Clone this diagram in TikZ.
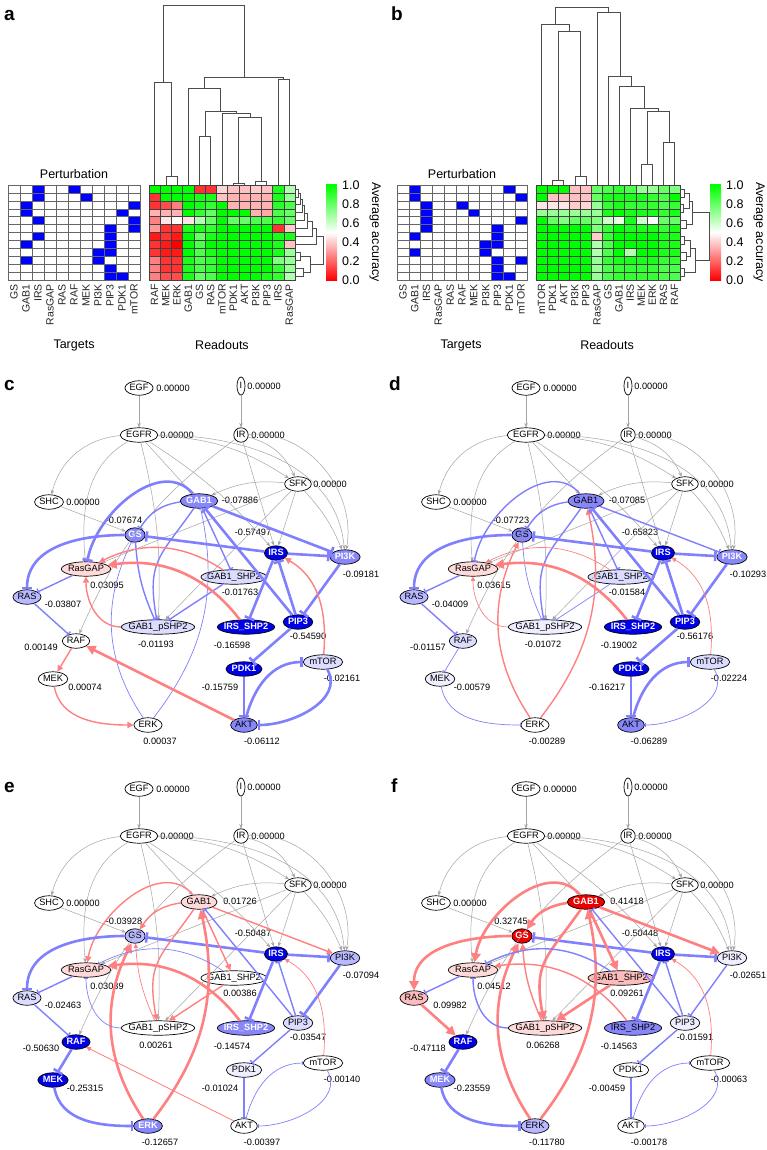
\documentclass[tikz,border=0pt]{standalone}
\usepackage{fontspec}
\setmainfont{Liberation Sans}
\usetikzlibrary{arrows.meta,shapes.geometric}

\definecolor{dkblue}{RGB}{0,0,230}
\definecolor{mdblue}{RGB}{135,135,250}
\definecolor{ltblue}{RGB}{185,185,255}
\definecolor{vlblue}{RGB}{220,220,255}
\definecolor{vwblue}{RGB}{238,238,255}
\definecolor{pkred}{RGB}{255,218,218}
\definecolor{pmred}{RGB}{250,188,188}
\definecolor{ndred}{RGB}{235,0,0}
\definecolor{iblue}{RGB}{128,128,255}
\definecolor{ared}{RGB}{255,128,128}
\definecolor{edgegray}{RGB}{165,165,165}

\newcommand{\netfont}{\fontsize{9.2}{10}\selectfont}
\newcommand{\hmfont}{\fontsize{12.5}{14}\selectfont}
\newcommand{\hmcolor}[1]{\pgfmathsetmacro\hmp{200*#1}%
  \ifdim #1pt<0.5pt \colorlet{hm}{white!\hmp!red}%
  \else\pgfmathsetmacro\hmp{200*#1-100}\colorlet{hm}{green!\hmp!white}\fi}
% dendrogram links: column (x1,y1,x2,y2,h) and row (y1,x1,y2,x2,h)
\newcommand{\dcol}[5]{\draw[dend] (#1,-#2) -- (#1,-#5) -- (#3,-#5) -- (#3,-#4);}
\newcommand{\drow}[5]{\draw[dend] (#2,-#1) -- (#5,-#1) -- (#5,-#3) -- (#4,-#3);}

\tikzset{
  net/.style={ellipse, draw=black, line width=0.7pt, inner xsep=0.5pt, inner ysep=1pt,
    text height=6.6pt, text depth=1.6pt, font=\netfont},
  ns/.style={}, rg/.style={inner xsep=-0.5pt}, lg/.style={inner xsep=-3.5pt},
  md/.style={inner xsep=-2pt}, ni/.style={inner xsep=0pt, minimum width=8pt, minimum height=18pt},
  wn/.style={fill=white}, vw/.style={fill=vwblue}, vl/.style={fill=vlblue},
  lb/.style={fill=ltblue}, mb/.style={fill=mdblue},
  mbw/.style={fill=mdblue, text=white, font=\netfont\bfseries},
  db/.style={fill=dkblue, text=white, font=\netfont\bfseries},
  pk/.style={fill=pkred}, pm/.style={fill=pmred},
  rd/.style={fill=ndred, text=white, font=\netfont\bfseries},
  val/.code={\gdef\nodeval{#1}},
  zero/.style={wn, val=0.00000},
  vlab/.style={font=\netfont, inner sep=0pt},
  gr/.style={draw=edgegray, line width=0.5pt, -{Stealth[length=4.5pt,width=3.5pt]}},
  inh/.style={draw=iblue, -{Bar[width=2pt 3.2]}},
  act/.style={draw=ared, -{Triangle[length=2.5pt 2.6,width=2.5pt 2.6]}},
  lt/.style={line width=0.7pt}, lm/.style={line width=1.4pt}, lk/.style={line width=2.6pt},
  pcell/.style={draw=black!60, line width=0.5pt},
  hcell/.style={draw=black!75, line width=0.4pt},
  dend/.style={draw=black!70, line width=0.6pt},
  clab/.style={rotate=90, anchor=east, font=\fontsize{10.5}{12}\selectfont, inner sep=0pt, text=black!85},
  tlab/.style={anchor=west, font=\hmfont, inner sep=0pt},
  ttl/.style={font=\hmfont},
  letter/.style={anchor=base west, inner sep=0pt, font=\fontsize{19}{20}\selectfont\bfseries}
}

% name/x/y/text/shape/label dx/label dy
\def\netlayout{EGF/139/388/EGF/ns/34/0, I/241/386/I/ni/23/0, EGFR/139/435/EGFR/ns/38/0,
  IR/241/435/IR/ns/27/0, SFK/298/484/SFK/ns/32/0, SHC/49/502/SHC/ns/34/0,
  GAB1/199/501/GAB1/ns/41/1, GS/135/535/GS/ns/-11/15, RasGAP/86/569/RasGAP/rg/21/-16,
  IRS/276/553/IRS/ns/-23/21, PI3K/345/557/PI3K/ns/16/-17, GABSHP/234/577/GAB1\_SHP2/lg/6/-15,
  RAS/27/597/RAS/ns/36/-7, GABpSHP/158/627/GAB1\_pSHP2/lg/-2/-17, IRSSHP/246/627/IRS\_SHP2/md/-14/-18,
  PIP3/298/622/PIP3/ns/10/-14, RAF/76/641/RAF/ns/-35/-6, PDK1/244/669/PDK1/ns/-24/-18,
  mTOR/323/662/mTOR/ns/19/-16, MEK/53/679/MEK/ns/32/-8, ERK/148/725/ERK/ns/12/-16,
  AKT/244/725/AKT/ns/18/-16}

\newcommand{\network}[1]{%
  \foreach \n/\x/\y/\txt/\sh/\lx/\ly in \netlayout {
    \node[net,\sh,#1\n] (#1\n) at (\x,-\y) {\txt};
    \node[vlab] (#1\n v) at ({\lx+\x},{\ly-\y}) {\nodeval};
  }
  \draw[gr] (#1EGF) -- (#1EGFR);
  \draw[gr] (#1I) -- (#1IR);
  \draw[gr] (#1EGFR) to[bend right=35] (#1SHC);
  \draw[gr] (#1EGFR) to[out=210,in=95] (#1RasGAP);
  \draw[gr] (#1EGFR) to[bend left=8] (#1GABpSHP);
  \draw[gr] (#1EGFR) -- (#1GAB1);
  \draw[gr] (#1EGFR) to[bend left=15] (#1SFK);
  \draw[gr] (#1EGFR) to[out=0,in=95] (#1PI3K);
  \draw[gr] (#1EGFR) to[bend left=8] (#1IRS);
  \draw[gr] (#1IR) to[bend left=25] (#1SFK);
  \draw[gr] (#1IR) -- (#1IRS);
  \draw[gr] (#1IR) to[bend right=15] (#1RAF);
  \draw[gr] (#1IR) to[out=5,in=80] (#1PI3K);
  \draw[gr] (#1SFK) to[bend right=15] (#1GAB1);
  \draw[gr] (#1SFK) -- (#1IRS);
  \draw[gr] (#1SFK) to[bend left=10] (#1PI3K);
  \draw[gr] (#1SFK) -- (#1GABpSHP);
  \draw[gr] (#1SFK) -- (#1RasGAP);
  \draw[gr] (#1SHC) -- (#1GS);
}

\tikzset{
  cEGF/.style=zero, cI/.style=zero, cEGFR/.style=zero, cIR/.style=zero, cSFK/.style=zero, cSHC/.style=zero,
  cGAB1/.style={mbw,val=-0.07886}, cGS/.style={mbw,val=-0.07674}, cRasGAP/.style={pk,val=0.03095},
  cIRS/.style={db,val=-0.57497}, cPI3K/.style={mbw,val=-0.09181}, cGABSHP/.style={vl,val=-0.01763},
  cRAS/.style={lb,val=-0.03807}, cGABpSHP/.style={vl,val=-0.01193}, cIRSSHP/.style={db,val=-0.16598},
  cPIP3/.style={db,val=-0.54590}, cRAF/.style={wn,val=0.00149}, cPDK1/.style={db,val=-0.15759},
  cmTOR/.style={vl,val=-0.02161}, cMEK/.style={wn,val=0.00074}, cERK/.style={wn,val=0.00037},
  cAKT/.style={mb,val=-0.06112},
  dEGF/.style=zero, dI/.style=zero, dEGFR/.style=zero, dIR/.style=zero, dSFK/.style=zero, dSHC/.style=zero,
  dGAB1/.style={mb,val=-0.07085}, dGS/.style={mb,val=-0.07723}, dRasGAP/.style={pk,val=0.03615},
  dIRS/.style={db,val=-0.65823}, dPI3K/.style={mbw,val=-0.10293}, dGABSHP/.style={vl,val=-0.01584},
  dRAS/.style={lb,val=-0.04009}, dGABpSHP/.style={vw,val=-0.01072}, dIRSSHP/.style={db,val=-0.19002},
  dPIP3/.style={db,val=-0.56176}, dRAF/.style={vl,val=-0.01157}, dPDK1/.style={db,val=-0.16217},
  dmTOR/.style={vl,val=-0.02224}, dMEK/.style={vw,val=-0.00579}, dERK/.style={wn,val=-0.00289},
  dAKT/.style={mb,val=-0.06289},
  eEGF/.style=zero, eI/.style=zero, eEGFR/.style=zero, eIR/.style=zero, eSFK/.style=zero, eSHC/.style=zero,
  eGAB1/.style={pk,val=0.01726}, eGS/.style={lb,val=-0.03928}, eRasGAP/.style={pk,val=0.03039},
  eIRS/.style={db,val=-0.50487}, ePI3K/.style={lb,val=-0.07094}, eGABSHP/.style={wn,val=0.00386},
  eRAS/.style={vl,val=-0.02463}, eGABpSHP/.style={wn,val=0.00261}, eIRSSHP/.style={mbw,val=-0.14574},
  ePIP3/.style={vl,val=-0.03547}, eRAF/.style={db,val=-0.50630}, ePDK1/.style={vw,val=-0.01024},
  emTOR/.style={wn,val=-0.00140}, eMEK/.style={db,val=-0.25315}, eERK/.style={mbw,val=-0.12657},
  eAKT/.style={wn,val=-0.00397},
  fEGF/.style=zero, fI/.style=zero, fEGFR/.style=zero, fIR/.style=zero, fSFK/.style=zero, fSHC/.style=zero,
  fGAB1/.style={rd,val=0.41418}, fGS/.style={rd,val=0.32745}, fRasGAP/.style={pk,val=0.04512},
  fIRS/.style={db,val=-0.50448}, fPI3K/.style={vw,val=-0.02651}, fGABSHP/.style={pm,val=0.09261},
  fRAS/.style={pm,val=0.09982}, fGABpSHP/.style={pk,val=0.06268}, fIRSSHP/.style={mb,val=-0.14563},
  fPIP3/.style={vw,val=-0.01591}, fRAF/.style={db,val=-0.47118}, fPDK1/.style={wn,val=-0.00459},
  fmTOR/.style={wn,val=-0.00063}, fMEK/.style={mbw,val=-0.23559}, fERK/.style={lb,val=-0.11780},
  fAKT/.style={wn,val=-0.00178}
}

\begin{document}
\begin{tikzpicture}[x=1pt,y=1pt]
\useasboundingbox (0,0) rectangle (767,-1150);
\fill[white] (0,0) rectangle (767,-1150);

% ---------- a ----------
\node[letter] (la) at (4,-21) {a};
\node[ttl] (pertA) at (74,-174) {Perturbation};
\foreach \c in {0,...,10} \foreach \r in {0,...,11}
  \draw[pcell] (8+12*\c,-185-7.917*\r) rectangle ++(12,-7.917);
\foreach \r/\c in {0/2,0/5,1/2,1/6,2/1,2/10,3/1,3/9,4/2,4/10,5/8,5/10,6/2,6/8,7/1,7/8,8/7,8/8,9/1,9/7,10/8,11/8,11/9}
  \filldraw[pcell,fill=blue] (8+12*\c,-185-7.917*\r) rectangle ++(12,-7.917);
\foreach \row [count=\r from 0] in {
  {1,1,1,1,0.1,0.1,0.42,0.38,0.38,0.4,0.38,0.95,0.65},
  {0.1,1,1,1,0.95,0.95,0.38,0.35,0.35,0.35,0.35,0.95,0.7},
  {0.1,0.15,0.25,1,0.95,0.9,1,0.35,0.35,0.35,0.35,0.92,0.85},
  {0.35,0.35,0.35,1,0.9,0.8,1,1,1,0.35,0.33,0.85,0.8},
  {0.25,0.45,0.5,0.45,0.65,0.8,1,0.8,0.8,0.85,0.85,0.9,0.8},
  {0.3,0.1,0.1,0.95,0.95,0.9,1,1,1,1,1,0.1,0.4},
  {0.05,0.1,0.05,1,0.8,0.95,1,1,1,1,1,0.95,0.95},
  {0.1,0.05,0,1,0.85,1,1,1,1,1,1,0.95,0.38},
  {0.1,0.05,0.05,1,0.85,0.95,1,1,1,1,1,0.95,0.7},
  {0.25,0.1,0.1,0.95,0.85,0.9,1,1,1,1,1,0.75,0.7},
  {0.25,0.1,0.1,0.95,0.85,0.9,1,1,1,1,1,0.9,0.7},
  {0.25,0.15,0.15,0.95,0.8,0.85,1,1,1,1,0.95,0.9,0.65}} {
  \foreach \v [count=\c from 0] in \row {
    \hmcolor{\v}
    \filldraw[hcell,fill=hm] (149+11.23*\c,-185-7.917*\r) rectangle ++(11.23,-7.917);
  }
}
\foreach \lab [count=\c from 0] in {GS,GAB1,IRS,RasGAP,RAS,RAF,MEK,PI3K,PIP3,PDK1,mTOR}
  \node[clab] (ta\c) at (14+12*\c,-284) {\lab};
\foreach \lab [count=\c from 0] in {RAF,MEK,ERK,GAB1,GS,RAS,mTOR,PDK1,AKT,PI3K,PIP3,IRS,RasGAP}
  \node[clab] (ra\c) at (154.6+11.23*\c,-284) {\lab};
\node[ttl] (tgA) at (74,-345) {Targets};
\node[ttl] (rdA) at (222,-345) {Readouts};
\dcol{165.8}{185}{177}{185}{176}
\dcol{154.6}{185}{171.4}{176}{82}
\dcol{233}{185}{244.2}{185}{183}
\dcol{255.4}{185}{266.6}{185}{181}
\dcol{238.6}{183}{261}{181}{117}
\dcol{221.8}{185}{249.8}{117}{113}
\dcol{199.4}{185}{210.6}{185}{136}
\dcol{205}{136}{235.8}{113}{111}
\dcol{188.2}{185}{220.4}{111}{88}
\dcol{277.8}{185}{289}{185}{79}
\dcol{204.3}{88}{283.4}{79}{77}
\dcol{163}{82}{243.9}{77}{5}
\drow{189}{295}{196.9}{295}{298}
\drow{193}{298}{204.8}{295}{300}
\drow{198.9}{300}{212.7}{295}{302}
\drow{205.8}{302}{220.6}{295}{304}
\drow{213.2}{304}{228.6}{295}{307}
\drow{220.9}{307}{236.5}{295}{312}
\drow{228.7}{312}{244.4}{295}{316}
\drow{252.3}{295}{260.3}{295}{300}
\drow{268.2}{295}{276.1}{295}{303}
\drow{256.3}{300}{272.2}{303}{310}
\drow{236.6}{316}{264.2}{310}{323}
\shade[top color=green,bottom color=white] (326,-185) rectangle (337,-232.5);
\shade[top color=white,bottom color=red] (326,-232.5) rectangle (337,-280);
\foreach \lab [count=\i from 0] in {1.0,0.8,0.6,0.4,0.2,0.0}
  \node[tlab] (sa\i) at (342,-185-19*\i) {\lab};
\node[ttl,rotate=-90] (accA) at (375,-232) {Average accuracy};

% ---------- b ----------
\node[letter] (lb) at (391,-21) {b};
\node[ttl] (pertB) at (462,-174) {Perturbation};
\foreach \c in {0,...,10} \foreach \r in {0,...,11}
  \draw[pcell] (397+11.82*\c,-185-7.917*\r) rectangle ++(11.82,-7.917);
\foreach \r/\c in {0/1,0/9,1/1,1/10,2/2,2/5,3/2,3/6,4/2,4/10,5/2,5/8,6/1,6/8,7/7,7/8,8/1,8/7,9/8,9/10,10/8,11/8,11/9}
  \filldraw[pcell,fill=blue] (397+11.82*\c,-185-7.917*\r) rectangle ++(11.82,-7.917);
\foreach \row [count=\r from 0] in {
  {1,1,1,0.38,0.38,0.8,0.85,0.9,0.85,0.7,0.7,0.8,0.75},
  {1,0.38,0.38,0.38,0.38,0.8,0.95,0.95,0.95,0.95,0.9,0.85,1},
  {0.45,0.45,0.45,0.4,0.42,0.7,0.9,0.95,0.9,0.9,0.9,0.85,0.9},
  {0.7,0.7,0.7,0.7,0.7,0.7,0.95,1,0.95,0.95,0.95,0.9,0.95},
  {1,0.8,0.75,0.8,0.8,0.75,0.6,0.55,0.95,0.6,0.5,0.8,0.8},
  {1,1,1,1,1,0.75,0.9,1,0.95,0.95,0.95,0.9,0.95},
  {1,1,1,1,1,0.4,0.9,1,1,1,1,0.95,0.95},
  {1,1,1,1,1,0.65,0.85,1,1,1,1,0.95,0.95},
  {1,1,1,1,1,0.65,0.85,1,0.65,1,1,0.95,0.95},
  {1,1,1,1,1,0.7,0.9,0.95,0.95,0.95,0.95,0.9,0.9},
  {1,1,1,1,1,0.7,0.85,0.9,0.9,0.9,0.9,0.85,0.85},
  {1,1,1,1,1,0.7,0.85,0.9,0.9,0.9,0.9,0.85,0.85}} {
  \foreach \v [count=\c from 0] in \row {
    \hmcolor{\v}
    \filldraw[hcell,fill=hm] (536+11.08*\c,-185-7.917*\r) rectangle ++(11.08,-7.917);
  }
}
\foreach \lab [count=\c from 0] in {GS,GAB1,IRS,RasGAP,RAS,RAF,MEK,PI3K,PIP3,PDK1,mTOR}
  \node[clab] (tb\c) at (402.9+11.82*\c,-284) {\lab};
\foreach \lab [count=\c from 0] in {mTOR,PDK1,AKT,PI3K,PIP3,RasGAP,GS,GAB1,IRS,MEK,ERK,RAS,RAF}
  \node[clab] (rb\c) at (541.5+11.08*\c,-284) {\lab};
\node[ttl] (tgB) at (461,-345) {Targets};
\node[ttl] (rdB) at (607,-345) {Readouts};
\dcol{552.6}{185}{563.7}{185}{180}
\dcol{574.8}{185}{585.9}{185}{176}
\dcol{558.2}{180}{580.4}{176}{31}
\dcol{541.5}{185}{569.3}{31}{24}
\dcol{641.4}{185}{652.5}{185}{164}
\dcol{663.6}{185}{674.7}{185}{142}
\dcol{647}{164}{669.2}{142}{111}
\dcol{630.3}{185}{658.1}{111}{108}
\dcol{619.2}{185}{644.2}{108}{86}
\dcol{608.1}{185}{631.7}{86}{76}
\dcol{597}{185}{619.9}{76}{12}
\dcol{555.4}{24}{608.5}{12}{7}
\drow{189}{680}{196.9}{680}{684}
\drow{204.8}{680}{212.7}{680}{683}
\drow{193}{684}{208.8}{683}{689}
\drow{220.6}{680}{228.6}{680}{686}
\drow{200.9}{689}{224.6}{686}{692}
\drow{236.5}{680}{244.4}{680}{684}
\drow{252.3}{680}{260.3}{680}{686}
\drow{240.5}{684}{256.3}{686}{690}
\drow{268.2}{680}{276.1}{680}{684}
\drow{248.4}{690}{272.2}{684}{695}
\drow{212.7}{692}{260.3}{695}{709}
\shade[top color=green,bottom color=white] (710,-185) rectangle (721,-232.5);
\shade[top color=white,bottom color=red] (710,-232.5) rectangle (721,-280);
\foreach \lab [count=\i from 0] in {1.0,0.8,0.6,0.4,0.2,0.0}
  \node[tlab] (sb\i) at (726,-185-19*\i) {\lab};
\node[ttl,rotate=-90] (accB) at (759,-232) {Average accuracy};

% ---------- c ----------
\node[letter] (lc) at (4,-390) {c};
\network{c}
\draw[inh,lk] (cGAB1) to[out=130,in=80] (cRasGAP);
\draw[inh,lk] (cGS) to[out=180,in=90] (cRAS);
\draw[inh,lm] (cRasGAP) -- (cRAS);
\draw[inh,lm] (cRAS) -- (cRAF);
\draw[act,lm] (cRAF) -- (cMEK);
\draw[act,lm] (cMEK) to[out=-80,in=180] (cERK);
\draw[inh,lk] (cIRS) -- (cGS);
\draw[inh,lm] (cGAB1) to[bend right=25] (cGS);
\draw[inh,lk] (cIRS) -- (cPI3K);
\draw[inh,lk] (cGAB1) -- (cPI3K);
\draw[inh,lm] (cGAB1) -- (cGABSHP);
\draw[inh,lm] (cGABSHP) -- (cGABpSHP);
\draw[inh,lm] (cGS) to[bend right=10] (cGABpSHP);
\draw[inh,lm] (cGAB1) to[out=235,in=100,looseness=1.3] (cGABpSHP);
\draw[inh,lt] (cERK) to[bend left=30] (cGS);
\draw[inh,lt] (cERK) to[bend right=25] (cGAB1);
\draw[inh,lk] (cIRS) -- (cIRSSHP);
\draw[inh,lk] (cPIP3) -- (cIRS);
\draw[inh,lk] (cPIP3) -- (cGAB1);
\draw[inh,lk] (cPI3K) -- (cPIP3);
\draw[inh,lk] (cPIP3) -- (cPDK1);
\draw[inh,lk] (cPDK1) -- (cAKT);
\draw[inh,lk] (cmTOR) to[out=-60,in=0] (cAKT);
\draw[inh,lk] (cAKT) to[out=75,in=180] (cmTOR);
\draw[act,lm] (cGABSHP) to[bend right=30] (cRasGAP);
\draw[act,lk] (cIRSSHP) to[bend right=30] (cRasGAP);
\draw[act,lm] (cGABpSHP) to[out=180,in=-90] (cRasGAP);
\draw[act,lk] (cAKT) -- (cRAF);
\draw[act,lm] (cmTOR) to[out=85,in=-30] (cIRS);

% ---------- d ----------
\node[letter] (ld) at (389,-390) {d};
\begin{scope}[shift={(387,0)}]
\network{d}
\draw[inh,lm] (dGAB1) to[out=130,in=80] (dRasGAP);
\draw[inh,lk] (dGS) to[out=180,in=90] (dRAS);
\draw[inh,lm] (dRasGAP) -- (dRAS);
\draw[inh,lm] (dRAS) -- (dRAF);
\draw[inh,lt] (dRAF) -- (dMEK);
\draw[inh,lt] (dMEK) to[out=-80,in=180] (dERK);
\draw[inh,lk] (dIRS) -- (dGS);
\draw[inh,lm] (dGAB1) to[bend right=25] (dGS);
\draw[inh,lk] (dIRS) -- (dPI3K);
\draw[inh,lm] (dGAB1) -- (dPI3K);
\draw[inh,lm] (dGAB1) -- (dGABSHP);
\draw[inh,lt] (dGABSHP) -- (dGABpSHP);
\draw[inh,lt] (dGS) to[bend right=10] (dGABpSHP);
\draw[inh,lm] (dGAB1) to[out=235,in=100,looseness=1.3] (dGABpSHP);
\draw[act,lm] (dERK) to[bend left=30] (dGS);
\draw[act,lm] (dERK) to[bend right=25] (dGAB1);
\draw[inh,lk] (dIRS) -- (dIRSSHP);
\draw[inh,lk] (dPIP3) -- (dIRS);
\draw[inh,lk] (dPIP3) -- (dGAB1);
\draw[inh,lk] (dPI3K) -- (dPIP3);
\draw[inh,lk] (dPIP3) -- (dPDK1);
\draw[inh,lk] (dPDK1) -- (dAKT);
\draw[inh,lt] (dmTOR) to[out=-60,in=0] (dAKT);
\draw[inh,lk] (dAKT) to[out=75,in=180] (dmTOR);
\draw[act,lt] (dGABSHP) to[bend right=30] (dRasGAP);
\draw[act,lk] (dIRSSHP) to[bend right=30] (dRasGAP);
\draw[act,lt] (dGABpSHP) to[out=180,in=-90] (dRasGAP);
\draw[act,lt] (dmTOR) to[out=85,in=-30] (dIRS);
\end{scope}

% ---------- e ----------
\node[letter] (le) at (4,-792) {e};
\begin{scope}[shift={(0,-401)}]
\network{e}
\draw[act,lm] (eGAB1) to[out=130,in=80] (eRasGAP);
\draw[inh,lk] (eGS) to[out=180,in=90] (eRAS);
\draw[inh,lm] (eRasGAP) -- (eRAS);
\draw[inh,lm] (eRAS) -- (eRAF);
\draw[inh,lk] (eRAF) -- (eMEK);
\draw[inh,lk] (eMEK) to[out=-80,in=180] (eERK);
\draw[inh,lk] (eIRS) -- (eGS);
\draw[act,lm] (eGAB1) to[bend right=25] (eGS);
\draw[inh,lk] (eIRS) -- (ePI3K);
\draw[act,lm] (eGAB1) -- (ePI3K);
\draw[act,lm] (eGAB1) -- (eGABSHP);
\draw[act,lm] (eGABSHP) -- (eGABpSHP);
\draw[act,lt] (eGABpSHP) to[bend left=10] (eGS);
\draw[act,lm] (eGAB1) to[out=235,in=100,looseness=1.3] (eGABpSHP);
\draw[act,lk] (eERK) to[bend left=30] (eGS);
\draw[act,lk] (eERK) to[bend right=25] (eGAB1);
\draw[inh,lk] (eIRS) -- (eIRSSHP);
\draw[inh,lm] (ePIP3) -- (eIRS);
\draw[inh,lm] (ePIP3) -- (eGAB1);
\draw[inh,lk] (ePI3K) -- (ePIP3);
\draw[inh,lm] (ePIP3) -- (ePDK1);
\draw[inh,lm] (ePDK1) -- (eAKT);
\draw[inh,lt] (emTOR) to[out=-60,in=0] (eAKT);
\draw[inh,lt] (eAKT) to[out=75,in=180] (emTOR);
\draw[inh,lt] (eGABSHP) to[bend right=30] (eRasGAP);
\draw[act,lk] (eIRSSHP) to[bend right=30] (eRasGAP);
\draw[inh,lt] (eGABpSHP) to[out=180,in=-90] (eRasGAP);
\draw[act,lt] (eAKT) -- (eRAF);
\draw[act,lt] (emTOR) to[out=85,in=-30] (eIRS);
\end{scope}

% ---------- f ----------
\node[letter] (lf) at (391,-792) {f};
\begin{scope}[shift={(387,-401)}]
\network{f}
\draw[act,lk] (fGAB1) to[out=130,in=80] (fRasGAP);
\draw[act,lk] (fGS) to[out=180,in=90] (fRAS);
\draw[inh,lm] (fRasGAP) -- (fRAS);
\draw[act,lk] (fRAS) -- (fRAF);
\draw[inh,lk] (fRAF) -- (fMEK);
\draw[inh,lk] (fMEK) to[out=-80,in=180] (fERK);
\draw[inh,lk] (fIRS) -- (fGS);
\draw[act,lk] (fGAB1) to[bend right=25] (fGS);
\draw[inh,lk] (fIRS) -- (fPI3K);
\draw[act,lk] (fGAB1) -- (fPI3K);
\draw[act,lk] (fGAB1) -- (fGABSHP);
\draw[act,lk] (fGABSHP) -- (fGABpSHP);
\draw[act,lm] (fGABpSHP) to[bend left=10] (fGS);
\draw[act,lk] (fGAB1) to[out=235,in=100,looseness=1.3] (fGABpSHP);
\draw[act,lk] (fERK) to[bend left=30] (fGS);
\draw[act,lk] (fERK) to[bend right=25] (fGAB1);
\draw[inh,lk] (fIRS) -- (fIRSSHP);
\draw[inh,lm] (fPIP3) -- (fIRS);
\draw[inh,lm] (fPIP3) -- (fGAB1);
\draw[inh,lm] (fPI3K) -- (fPIP3);
\draw[inh,lm] (fPIP3) -- (fPDK1);
\draw[inh,lm] (fPDK1) -- (fAKT);
\draw[inh,lt] (fmTOR) to[out=-60,in=0] (fAKT);
\draw[inh,lt] (fAKT) to[out=75,in=180] (fmTOR);
\draw[inh,lm] (fGABSHP) to[bend right=30] (fRasGAP);
\draw[act,lm] (fIRSSHP) to[bend right=30] (fRasGAP);
\draw[inh,lm] (fGABpSHP) to[out=180,in=-90] (fRasGAP);
\draw[act,lt] (fmTOR) to[out=85,in=-30] (fIRS);
\end{scope}
\end{tikzpicture}
\end{document}
